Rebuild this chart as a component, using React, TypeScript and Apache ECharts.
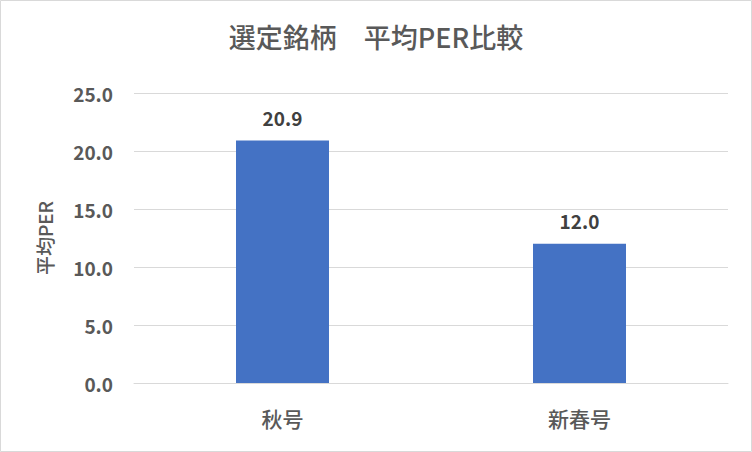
import React, { useEffect, useRef } from "react";
import * as echarts from "echarts";

const categories = ["秋号", "新春号"];
const perValues = [20.9, 12.0];
const titleText = "選定銘柄　平均PER比較";
const yAxisName = "平均PER";

export default function App() {
  const ref = useRef<HTMLDivElement>(null);
  useEffect(() => {
    document.body.style.margin = "0";
    const chart = echarts.init(ref.current!, null, { renderer: "svg" });
    const font = "'Noto Sans CJK JP', 'Noto Sans', sans-serif";
    chart.setOption({
      animation: false,
      backgroundColor: "#ffffff",
      title: {
        text: titleText,
        left: "center",
        top: 18,
        textStyle: { fontFamily: font, fontSize: 27, fontWeight: 500, color: "#595959" },
      },
      graphic: [
        {
          type: "rect",
          shape: { x: 0.5, y: 0.5, width: 751, height: 451 },
          style: { fill: "none", stroke: "#d9d9d9", lineWidth: 1 },
          silent: true,
        },
      ],
      grid: { left: 134, right: 24, top: 93, bottom: 69 },
      xAxis: {
        type: "category",
        data: categories,
        axisLine: { lineStyle: { color: "#d9d9d9", width: 1 } },
        axisTick: { show: false },
        axisLabel: { fontFamily: font, fontSize: 21, fontWeight: 500, color: "#595959", margin: 24 },
      },
      yAxis: {
        type: "value",
        min: 0,
        max: 25,
        interval: 5,
        name: yAxisName,
        nameLocation: "middle",
        nameGap: 80,
        nameRotate: 90,
        nameTextStyle: { fontFamily: font, fontSize: 19, fontWeight: 500, color: "#595959" },
        axisLine: { show: false },
        axisTick: { show: false },
        splitLine: { lineStyle: { color: "#d9d9d9", width: 1 } },
        axisLabel: {
          fontFamily: font,
          fontSize: 19,
          fontWeight: "bold",
          color: "#595959",
          margin: 21,
          formatter: (v: number) => v.toFixed(1),
        },
      },
      series: [
        {
          type: "bar",
          data: perValues,
          barWidth: 93,
          itemStyle: { color: "#4472C4" },
          label: {
            show: true,
            position: "top",
            distance: 14,
            fontFamily: font,
            fontSize: 19,
            fontWeight: "bold",
            color: "#404040",
            formatter: (p: any) => Number(p.value).toFixed(1),
          },
        },
      ],
    });
    return () => chart.dispose();
  }, []);
  return <div ref={ref} style={{ width: 752, height: 452 }} />;
}
